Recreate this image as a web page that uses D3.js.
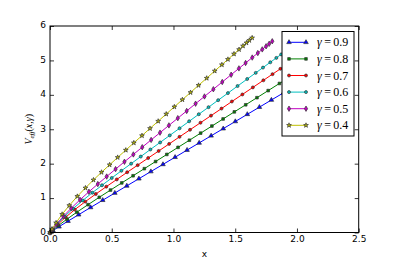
<!DOCTYPE html>
<html>
<head>
<meta charset="utf-8">
<script src="https://cdn.jsdelivr.net/npm/d3@7"></script>
<style>
  body { margin: 0; background: #fff; }
  svg { display: block; }
</style>
</head>
<body>
<div id="chart"></div>
<script>
// gamma values, in legend order
gammas = ["0.9", "0.8", "0.7", "0.6", "0.5", "0.4"]
colors = ["#0000ff", "#008000", "#ff0000", "#00bfbf", "#bf00bf", "#bfbf00"]

// values
xG09 = [0,0.024,0.073,0.146,0.232,0.329,0.427,0.525,0.622,0.720,0.817,0.915,1.013,1.110,1.208,1.305,1.403,1.501,1.598,1.696,1.793,1.891,1.989,2.074,2.147,2.220,2.281,2.330,2.372,2.406,2.440]
yG09 = [0,0.056,0.168,0.331,0.517,0.728,0.938,1.147,1.355,1.563,1.771,1.979,2.187,2.395,2.603,2.810,3.018,3.226,3.434,3.642,3.850,4.058,4.266,4.448,4.604,4.759,4.889,4.993,5.082,5.154,5.227]
xG08 = [0,0.023,0.068,0.137,0.217,0.308,0.399,0.490,0.581,0.673,0.764,0.855,0.946,1.037,1.129,1.220,1.311,1.402,1.493,1.585,1.676,1.767,1.858,1.938,2.006,2.075,2.132,2.177,2.216,2.248,2.280]
yG08 = [0,0.070,0.202,0.387,0.589,0.809,1.023,1.233,1.441,1.649,1.855,2.062,2.268,2.474,2.681,2.887,3.093,3.299,3.505,3.711,3.917,4.123,4.330,4.510,4.664,4.819,4.948,5.051,5.139,5.211,5.283]
xG07 = [0,0.021,0.064,0.127,0.201,0.286,0.371,0.456,0.541,0.625,0.710,0.795,0.880,0.965,1.049,1.134,1.219,1.304,1.389,1.473,1.558,1.643,1.728,1.802,1.866,1.929,1.982,2.025,2.061,2.090,2.120]
yG07 = [0,0.083,0.237,0.445,0.665,0.897,1.118,1.332,1.542,1.750,1.957,2.163,2.368,2.574,2.779,2.985,3.190,3.395,3.600,3.806,4.011,4.216,4.421,4.601,4.755,4.909,5.037,5.140,5.227,5.299,5.370]
xG06 = [0,0.020,0.059,0.118,0.186,0.265,0.343,0.421,0.500,0.578,0.657,0.735,0.813,0.892,0.970,1.049,1.127,1.205,1.284,1.362,1.441,1.519,1.597,1.666,1.725,1.784,1.833,1.872,1.905,1.933,1.960]
yG06 = [0,0.087,0.248,0.465,0.692,0.931,1.156,1.372,1.584,1.793,2.000,2.206,2.412,2.617,2.822,3.027,3.231,3.436,3.641,3.845,4.050,4.255,4.459,4.638,4.792,4.945,5.073,5.175,5.262,5.334,5.406]
xG05 = [0,0.018,0.054,0.108,0.171,0.243,0.315,0.387,0.459,0.531,0.603,0.675,0.747,0.819,0.891,0.963,1.035,1.107,1.179,1.251,1.323,1.395,1.467,1.530,1.584,1.638,1.683,1.719,1.750,1.775,1.800]
yG05 = [0,0.086,0.248,0.469,0.703,0.950,1.183,1.407,1.626,1.842,2.055,2.268,2.479,2.690,2.901,3.112,3.322,3.532,3.743,3.953,4.163,4.373,4.584,4.768,4.925,5.083,5.214,5.320,5.410,5.483,5.556]
xG04 = [0,0.016,0.049,0.098,0.156,0.221,0.287,0.352,0.417,0.483,0.548,0.614,0.679,0.745,0.810,0.876,0.941,1.007,1.072,1.138,1.203,1.269,1.334,1.392,1.441,1.490,1.531,1.563,1.591,1.614,1.637]
yG04 = [0,0.098,0.282,0.529,0.785,1.050,1.295,1.527,1.750,1.967,2.182,2.394,2.605,2.815,3.024,3.234,3.442,3.651,3.859,4.068,4.276,4.484,4.693,4.875,5.031,5.188,5.317,5.421,5.510,5.582,5.656]

xTicks = [0, 0.5, 1.0, 1.5, 2.0, 2.5]
yTicks = [0, 1, 2, 3, 4, 5, 6]

var svgW = 399, svgH = 266
var plotL = 50, plotR = 358.7, plotT = 26, plotB = 232.5

// thin diamond like matplotlib 'd'
thinDiamond = {
  draw: function(ctx, size) {
    var r = Math.sqrt(size) * 0.75
    ctx.moveTo(0, -r)
    ctx.lineTo(r * 0.6, 0)
    ctx.lineTo(0, r)
    ctx.lineTo(-r * 0.6, 0)
    ctx.closePath()
  }
}
markers = [
  d3.symbol().type(d3.symbolTriangle).size(9),
  d3.symbol().type(d3.symbolSquare).size(7),
  d3.symbol().type(d3.symbolCircle).size(7),
  d3.symbol().type(d3.symbolCircle).size(7),
  d3.symbol().type(thinDiamond).size(13),
  d3.symbol().type(d3.symbolStar).size(7)
]

series = [[xG09, yG09], [xG08, yG08], [xG07, yG07], [xG06, yG06], [xG05, yG05], [xG04, yG04]]
  .map(function(s, i) {
    return {
      gamma: gammas[i],
      color: colors[i],
      marker: markers[i],
      points: s[0].map(function(v, j) { return [v, s[1][j]] })
    }
  })

xScale = d3.scaleLinear().domain([0, 2.5]).range([plotL, plotR])
yScale = d3.scaleLinear().domain([0, 6]).range([plotB, plotT])

svg = d3.select("#chart").append("svg")
  .attr("width", svgW)
  .attr("height", svgH)

lineGen = d3.line()
  .x(function(d) { return xScale(d[0]) })
  .y(function(d) { return yScale(d[1]) })

series.forEach(function(s) {
  var g = svg.append("g")
  g.append("path")
    .attr("d", lineGen(s.points))
    .attr("fill", "none")
    .attr("stroke", s.color)
    .attr("stroke-width", 1)
  g.selectAll("path.mk")
    .data(s.points).enter()
    .append("path")
    .attr("class", "mk")
    .attr("d", s.marker)
    .attr("transform", function(d) { return "translate(" + xScale(d[0]) + "," + yScale(d[1]) + ")" })
    .attr("fill", s.color)
    .attr("stroke", "#333")
    .attr("stroke-width", 0.7)
})

// axes, ticks pointing inwards on all four sides
tickFont = "DejaVu Sans"
function styleAxis(sel, show) {
  sel.select(".domain").remove()
  sel.selectAll("line").attr("stroke", "#000").attr("stroke-width", 0.8)
  sel.selectAll("text")
    .attr("font-family", tickFont)
    .attr("font-size", "9px")
    .attr("fill", "#000")
    .style("display", show ? null : "none")
}
svg.append("g").attr("transform", "translate(0," + plotB + ")")
  .call(d3.axisBottom(xScale).tickValues(xTicks).tickFormat(d3.format(".1f")).tickSize(-4).tickPadding(3))
  .call(styleAxis, true)
svg.append("g").attr("transform", "translate(0," + plotT + ")")
  .call(d3.axisTop(xScale).tickValues(xTicks).tickSize(-4))
  .call(styleAxis, false)
svg.append("g").attr("transform", "translate(" + plotL + ",0)")
  .call(d3.axisLeft(yScale).tickValues(yTicks).tickFormat(d3.format("d")).tickSize(-4).tickPadding(4))
  .call(styleAxis, true)
  .call(function(ax) { ax.selectAll("text").attr("dy", "0.2em") })
svg.append("g").attr("transform", "translate(" + plotR + ",0)")
  .call(d3.axisRight(yScale).tickValues(yTicks).tickSize(-4))
  .call(styleAxis, false)

svg.append("rect")
  .attr("x", plotL).attr("y", plotT)
  .attr("width", plotR - plotL).attr("height", plotB - plotT)
  .attr("fill", "none").attr("stroke", "#000").attr("stroke-width", 1)

// axis labels
svg.append("text")
  .attr("x", (plotL + plotR) / 2).attr("y", 257)
  .attr("text-anchor", "middle")
  .attr("font-family", tickFont).attr("font-size", "9px")
  .text("x")

ylab = svg.append("text")
  .attr("transform", "translate(32," + ((plotT + plotB) / 2) + ") rotate(-90)")
  .attr("text-anchor", "middle")
  .attr("font-family", "Liberation Serif").attr("font-size", "10px")
ylab.append("tspan").attr("font-style", "italic").text("V")
ylab.append("tspan").attr("font-style", "italic").attr("font-size", "7px").attr("dy", 2).text("eff")
ylab.append("tspan").attr("dy", -2).text("(")
ylab.append("tspan").attr("font-style", "italic").text("x")
ylab.append("tspan").text(",")
ylab.append("tspan").attr("font-style", "italic").text("γ")
ylab.append("tspan").text(")")

// legend
legend = svg.append("g")
legend.append("rect")
  .attr("x", 282).attr("y", 31.5)
  .attr("width", 72).attr("height", 104.5)
  .attr("fill", "#fff").attr("stroke", "#000").attr("stroke-width", 1)

series.forEach(function(s, i) {
  var ly = 42.3 + i * 16.6
  var item = legend.append("g")
  item.append("line")
    .attr("x1", 289).attr("x2", 306).attr("y1", ly).attr("y2", ly)
    .attr("stroke", s.color).attr("stroke-width", 1)
  ;[289, 306].forEach(function(px) {
    item.append("path")
      .attr("d", s.marker)
      .attr("transform", "translate(" + px + "," + ly + ")")
      .attr("fill", s.color).attr("stroke", "#333").attr("stroke-width", 0.7)
  })
  var t = item.append("text")
    .attr("x", 317).attr("y", ly + 4)
    .attr("font-family", "Liberation Serif").attr("font-size", "12px")
  t.append("tspan").attr("font-style", "italic").text("γ")
  t.append("tspan").text("\u2009=\u2009" + s.gamma)
})
</script>
</body>
</html>
